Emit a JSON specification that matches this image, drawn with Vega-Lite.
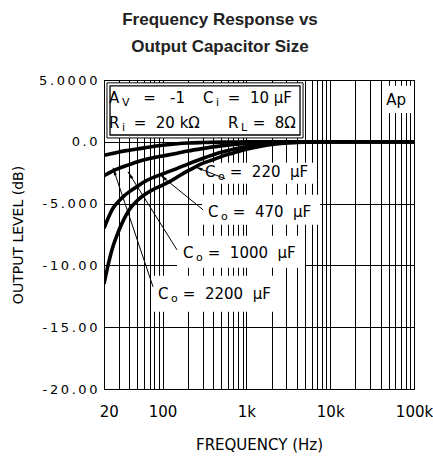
{
  "$schema": "https://vega.github.io/schema/vega-lite/v6.json",
  "width": 310,
  "height": 309,
  "autosize": {"type": "none"},
  "padding": {"left": 104, "top": 80, "right": 19, "bottom": 68},
  "background": "white",
  "title": {
    "text": ["Frequency Response vs", "Output Capacitor Size"],
    "font": "Liberation Sans",
    "fontSize": 17,
    "fontWeight": "bold",
    "color": "#222",
    "anchor": "middle",
    "dx": -39,
    "offset": 5,
    "baseline": "alphabetic",
    "lineHeight": 27
  },
  "config": {
    "view": {"stroke": "#000", "strokeWidth": 1},
    "axis": {
      "labelFont": "DejaVu Sans",
      "labelFontSize": 14,
      "labelColor": "#000",
      "titleFont": "DejaVu Sans",
      "titleFontSize": 14,
      "titleFontWeight": "normal",
      "titleColor": "#000",
      "gridColor": "#000",
      "gridOpacity": 1,
      "gridWidth": 1,
      "ticks": false,
      "domain": false
    }
  },
  "datasets": {
    "curves": [
      {"c": "2200", "f": 20, "db": -1.1}, {"c": "2200", "f": 25, "db": -0.95}, {"c": "2200", "f": 30, "db": -0.82}, {"c": "2200", "f": 40, "db": -0.68}, {"c": "2200", "f": 50, "db": -0.58}, {"c": "2200", "f": 70, "db": -0.42}, {"c": "2200", "f": 100, "db": -0.28}, {"c": "2200", "f": 150, "db": -0.16}, {"c": "2200", "f": 200, "db": -0.1}, {"c": "2200", "f": 300, "db": -0.06}, {"c": "2200", "f": 500, "db": -0.03}, {"c": "2200", "f": 1000, "db": -0.01}, {"c": "2200", "f": 2000, "db": 0}, {"c": "2200", "f": 100000, "db": 0},
      {"c": "1000", "f": 20, "db": -2.75}, {"c": "1000", "f": 25, "db": -2.4}, {"c": "1000", "f": 30, "db": -2.15}, {"c": "1000", "f": 40, "db": -1.85}, {"c": "1000", "f": 50, "db": -1.62}, {"c": "1000", "f": 70, "db": -1.35}, {"c": "1000", "f": 100, "db": -1.15}, {"c": "1000", "f": 150, "db": -0.92}, {"c": "1000", "f": 200, "db": -0.75}, {"c": "1000", "f": 300, "db": -0.55}, {"c": "1000", "f": 500, "db": -0.33}, {"c": "1000", "f": 700, "db": -0.22}, {"c": "1000", "f": 1000, "db": -0.13}, {"c": "1000", "f": 1500, "db": -0.06}, {"c": "1000", "f": 2000, "db": -0.03}, {"c": "1000", "f": 3000, "db": 0}, {"c": "1000", "f": 100000, "db": 0},
      {"c": "470", "f": 20, "db": -7.0}, {"c": "470", "f": 23, "db": -6.0}, {"c": "470", "f": 26, "db": -5.3}, {"c": "470", "f": 30, "db": -4.8}, {"c": "470", "f": 35, "db": -4.35}, {"c": "470", "f": 40, "db": -4.05}, {"c": "470", "f": 50, "db": -3.6}, {"c": "470", "f": 60, "db": -3.25}, {"c": "470", "f": 80, "db": -2.85}, {"c": "470", "f": 100, "db": -2.6}, {"c": "470", "f": 150, "db": -2.15}, {"c": "470", "f": 200, "db": -1.8}, {"c": "470", "f": 300, "db": -1.35}, {"c": "470", "f": 500, "db": -0.85}, {"c": "470", "f": 700, "db": -0.6}, {"c": "470", "f": 1000, "db": -0.4}, {"c": "470", "f": 1500, "db": -0.23}, {"c": "470", "f": 2000, "db": -0.14}, {"c": "470", "f": 3000, "db": -0.06}, {"c": "470", "f": 5000, "db": -0.01}, {"c": "470", "f": 100000, "db": 0},
      {"c": "220", "f": 20, "db": -11.5}, {"c": "220", "f": 22, "db": -10.2}, {"c": "220", "f": 25, "db": -8.7}, {"c": "220", "f": 30, "db": -7.2}, {"c": "220", "f": 35, "db": -6.2}, {"c": "220", "f": 40, "db": -5.5}, {"c": "220", "f": 50, "db": -4.75}, {"c": "220", "f": 60, "db": -4.3}, {"c": "220", "f": 80, "db": -3.8}, {"c": "220", "f": 100, "db": -3.5}, {"c": "220", "f": 123, "db": -3.2}, {"c": "220", "f": 150, "db": -2.85}, {"c": "220", "f": 200, "db": -2.35}, {"c": "220", "f": 250, "db": -2.0}, {"c": "220", "f": 300, "db": -1.75}, {"c": "220", "f": 400, "db": -1.45}, {"c": "220", "f": 500, "db": -1.2}, {"c": "220", "f": 700, "db": -0.9}, {"c": "220", "f": 1000, "db": -0.6}, {"c": "220", "f": 1500, "db": -0.35}, {"c": "220", "f": 2000, "db": -0.22}, {"c": "220", "f": 3000, "db": -0.1}, {"c": "220", "f": 5000, "db": -0.03}, {"c": "220", "f": 8000, "db": 0}, {"c": "220", "f": 100000, "db": 0}
    ],
    "whiteboxes": [
      {"box": "legend", "f": 21.7, "f2": 4743, "db": 4.77, "db2": 0.31},
      {"box": "220", "f": 279.7, "f2": 6238, "db": -1.7, "db2": -3.4},
      {"box": "470", "f": 295.6, "f2": 7568, "db": -4.29, "db2": -6.72},
      {"box": "1000", "f": 148.6, "f2": 5008, "db": -7.61, "db2": -10.19},
      {"box": "2200", "f": 74.8, "f2": 2735, "db": -10.84, "db2": -13.75},
      {"box": "Ap", "f": 41520, "f2": 92140, "db": 4.53, "db2": 2.33}
    ],
    "innerframe": [
      {"f": 23.6, "f2": 4366, "db": 4.53, "db2": 0.55}
    ],
    "labels": [
      {"f": 320.6, "db": -2.43, "main": "C", "sub": "o", "rest": "\u200d\u00a0=\u00a0\u00a0220\u00a0\u00a0µF"},
      {"f": 348.6, "db": -5.66, "main": "C", "sub": "o", "rest": "\u200d\u00a0=\u00a0\u00a0470\u00a0\u00a0µF"},
      {"f": 175.2, "db": -8.98, "main": "C", "sub": "o", "rest": "\u200d\u00a0=\u00a0\u00a01000\u00a0\u00a0µF"},
      {"f": 88.3, "db": -12.3, "main": "C", "sub": "o", "rest": "\u200d\u00a0=\u00a0\u00a02200\u00a0\u00a0µF"},
      {"f": 22.9, "db": 3.56, "main": "A", "sub": "V", "rest": "\u200d\u00a0\u00a0\u00a0=\u00a0\u00a0\u00a0-1"},
      {"f": 303.8, "db": 3.56, "main": "C", "sub": "i", "rest": "\u200d\u00a0=\u00a0\u00a010\u00a0µF"},
      {"f": 22.9, "db": 1.54, "main": "R", "sub": "i", "rest": "\u200d\u00a0=\u00a0\u00a020\u00a0kΩ"},
      {"f": 602, "db": 1.54, "main": "R", "sub": "L", "rest": "\u200d\u00a0=\u00a0\u00a08Ω"},
      {"f": 46500, "db": 3.4, "main": "Ap", "sub": "", "rest": ""}
    ],
    "arrows": [
      {"id": "220", "f": 243.8, "db": -2.02, "f2": 555.7, "db2": -2.99},
      {"id": "470", "f": 93.2, "db": -2.67, "f2": 303.8, "db2": -5.5},
      {"id": "1000", "f": 38.7, "db": -2.43, "f2": 148.6, "db2": -8.74},
      {"id": "2200", "f": 25.6, "db": -2.1, "f2": 76.9, "db2": -11.73}
    ]
  },
  "layer": [
    {
      "data": {"name": "whiteboxes"},
      "mark": {"type": "rect", "fill": "white", "stroke": null},
      "encoding": {
        "x": {
          "field": "f", "type": "quantitative",
          "scale": {"type": "log", "domain": [20, 100000], "nice": false},
          "axis": {
            "values": [20,30,40,50,60,70,80,90,100,200,300,400,500,600,700,800,900,1000,2000,3000,4000,5000,6000,7000,8000,9000,10000,20000,30000,40000,50000,60000,70000,80000,90000,100000],
            "labelExpr": "datum.value == 20 ? '\u200d\u00a0\u00a020' : datum.value == 100 ? '100' : datum.value == 1000 ? '1k' : datum.value == 10000 ? '10k' : datum.value == 100000 ? '100k' : ''",
            "labelPadding": 15,
            "labelFontSize": 15,
            "labelFlush": false,
            "labelOverlap": false,
            "title": "FREQUENCY (Hz)",
            "titleFontSize": 15,
            "titlePadding": 18
          }
        },
        "x2": {"field": "f2"},
        "y": {
          "field": "db", "type": "quantitative",
          "scale": {"domain": [-20, 5], "nice": false, "zero": false},
          "axis": {
            "values": [5, 0, -5, -10, -15, -20],
            "labelExpr": "datum.value == 5 ? '5\u2009.\u20090\u20090\u20090\u20090' : datum.value == 0 ? '0\u2009.\u20090' : datum.value == -5 ? '-\u20095\u2009.\u20090\u20090\u20090' : datum.value == -10 ? '-\u20091\u20090\u2009.\u20090\u20090' : datum.value == -15 ? '-\u20091\u20095\u2009.\u20090\u20090' : '-\u20092\u20090\u2009.\u20090\u20090'",
            "labelFontSize": 13,
            "labelPadding": 7,
            "labelFlush": false,
            "labelOverlap": false,
            "title": "OUTPUT LEVEL (dB)",
            "titleX": -86,
            "titleY": 154.5,
            "titleAngle": 270,
            "titleAlign": "center",
            "titleBaseline": "middle"
          }
        },
        "y2": {"field": "db2"}
      }
    },
    {
      "data": {"name": "whiteboxes"},
      "transform": [{"filter": "datum.box == 'legend'"}],
      "mark": {"type": "rect", "fill": null, "stroke": "#000", "strokeWidth": 1},
      "encoding": {
        "x": {"field": "f", "type": "quantitative", "scale": {"type": "log", "domain": [20, 100000], "nice": false}},
        "x2": {"field": "f2"},
        "y": {"field": "db", "type": "quantitative", "scale": {"domain": [-20, 5], "nice": false, "zero": false}},
        "y2": {"field": "db2"}
      }
    },
    {
      "data": {"name": "innerframe"},
      "mark": {"type": "rect", "fill": null, "stroke": "#000", "strokeWidth": 1.3},
      "encoding": {
        "x": {"field": "f", "type": "quantitative", "scale": {"type": "log", "domain": [20, 100000], "nice": false}},
        "x2": {"field": "f2"},
        "y": {"field": "db", "type": "quantitative", "scale": {"domain": [-20, 5], "nice": false, "zero": false}},
        "y2": {"field": "db2"}
      }
    },
    {
      "data": {"name": "curves"},
      "mark": {"type": "line", "color": "#000", "strokeWidth": 3.6, "interpolate": "monotone", "clip": true},
      "encoding": {
        "x": {"field": "f", "type": "quantitative", "scale": {"type": "log", "domain": [20, 100000], "nice": false}},
        "y": {"field": "db", "type": "quantitative", "scale": {"domain": [-20, 5], "nice": false, "zero": false}},
        "detail": {"field": "c"},
        "order": {"field": "f", "type": "quantitative"}
      }
    },
    {
      "data": {"name": "arrows"},
      "mark": {"type": "rule", "color": "#000", "strokeWidth": 1},
      "encoding": {
        "x": {"field": "f", "type": "quantitative", "scale": {"type": "log", "domain": [20, 100000], "nice": false}},
        "x2": {"field": "f2"},
        "y": {"field": "db", "type": "quantitative", "scale": {"domain": [-20, 5], "nice": false, "zero": false}},
        "y2": {"field": "db2"}
      }
    },
    {
      "data": {"name": "arrows"},
      "transform": [{"filter": "datum.id == '220'"}],
      "mark": {"type": "point", "shape": "M0,0L0.4,2.2L-0.4,2.2Z", "size": 49, "filled": true, "color": "#000", "opacity": 1, "angle": 292},
      "encoding": {
        "x": {"field": "f", "type": "quantitative", "scale": {"type": "log", "domain": [20, 100000], "nice": false}},
        "y": {"field": "db", "type": "quantitative", "scale": {"domain": [-20, 5], "nice": false, "zero": false}}
      }
    },
    {
      "data": {"name": "arrows"},
      "transform": [{"filter": "datum.id == '470'"}],
      "mark": {"type": "point", "shape": "M0,0L0.4,2.2L-0.4,2.2Z", "size": 49, "filled": true, "color": "#000", "opacity": 1, "angle": 309},
      "encoding": {
        "x": {"field": "f", "type": "quantitative", "scale": {"type": "log", "domain": [20, 100000], "nice": false}},
        "y": {"field": "db", "type": "quantitative", "scale": {"domain": [-20, 5], "nice": false, "zero": false}}
      }
    },
    {
      "data": {"name": "arrows"},
      "transform": [{"filter": "datum.id == '1000'"}],
      "mark": {"type": "point", "shape": "M0,0L0.4,2.2L-0.4,2.2Z", "size": 49, "filled": true, "color": "#000", "opacity": 1, "angle": 328},
      "encoding": {
        "x": {"field": "f", "type": "quantitative", "scale": {"type": "log", "domain": [20, 100000], "nice": false}},
        "y": {"field": "db", "type": "quantitative", "scale": {"domain": [-20, 5], "nice": false, "zero": false}}
      }
    },
    {
      "data": {"name": "arrows"},
      "transform": [{"filter": "datum.id == '2200'"}],
      "mark": {"type": "point", "shape": "M0,0L0.4,2.2L-0.4,2.2Z", "size": 49, "filled": true, "color": "#000", "opacity": 1, "angle": 341},
      "encoding": {
        "x": {"field": "f", "type": "quantitative", "scale": {"type": "log", "domain": [20, 100000], "nice": false}},
        "y": {"field": "db", "type": "quantitative", "scale": {"domain": [-20, 5], "nice": false, "zero": false}}
      }
    },
    {
      "data": {"name": "labels"},
      "mark": {"type": "text", "align": "left", "baseline": "middle", "font": "DejaVu Sans", "fontSize": 15, "color": "#000"},
      "encoding": {
        "x": {"field": "f", "type": "quantitative", "scale": {"type": "log", "domain": [20, 100000], "nice": false}},
        "y": {"field": "db", "type": "quantitative", "scale": {"domain": [-20, 5], "nice": false, "zero": false}},
        "text": {"field": "main"}
      }
    },
    {
      "data": {"name": "labels"},
      "mark": {"type": "text", "align": "left", "baseline": "middle", "font": "DejaVu Sans", "fontSize": 11, "color": "#000", "dx": 13, "dy": 5},
      "encoding": {
        "x": {"field": "f", "type": "quantitative", "scale": {"type": "log", "domain": [20, 100000], "nice": false}},
        "y": {"field": "db", "type": "quantitative", "scale": {"domain": [-20, 5], "nice": false, "zero": false}},
        "text": {"field": "sub"}
      }
    },
    {
      "data": {"name": "labels"},
      "mark": {"type": "text", "align": "left", "baseline": "middle", "font": "DejaVu Sans", "fontSize": 15, "color": "#000", "dx": 20},
      "encoding": {
        "x": {"field": "f", "type": "quantitative", "scale": {"type": "log", "domain": [20, 100000], "nice": false}},
        "y": {"field": "db", "type": "quantitative", "scale": {"domain": [-20, 5], "nice": false, "zero": false}},
        "text": {"field": "rest"}
      }
    }
  ]
}
